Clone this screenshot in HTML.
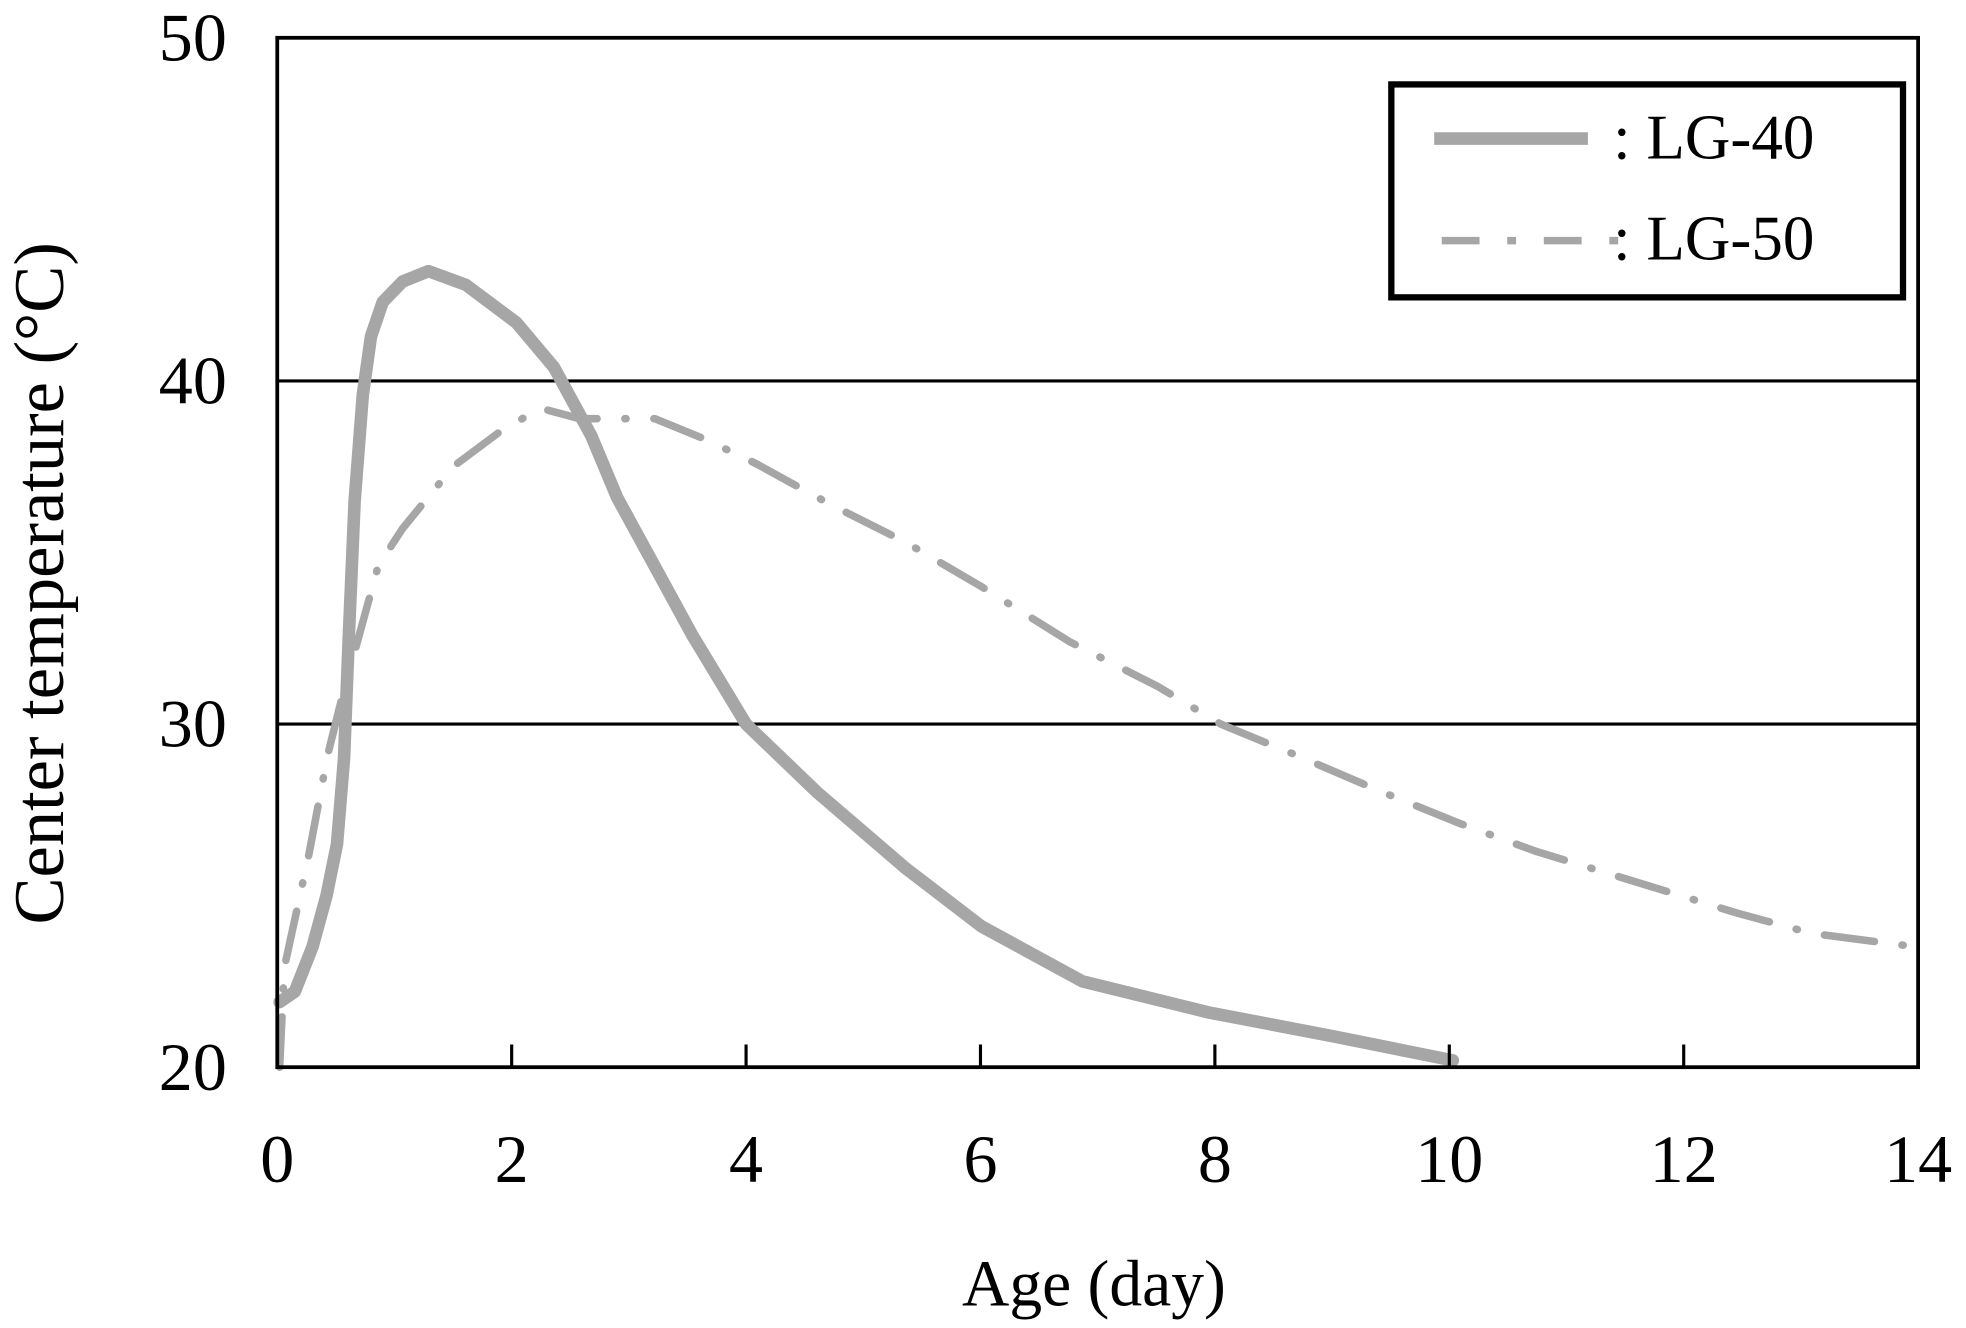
<!DOCTYPE html>
<html><head><meta charset="utf-8"><style>
html,body{margin:0;padding:0;background:#fff;}
svg{display:block;}
text{font-family:"Liberation Serif",serif;fill:#000;}
</style></head><body>
<svg id="chart" width="1966" height="1328" viewBox="0 0 1560 1054" preserveAspectRatio="none" xmlns="http://www.w3.org/2000/svg">
<g id="grid"></g>
<g id="series"></g>
<g id="axes"></g>
<text x="868" y="1036" font-size="52" text-anchor="middle">Age (day)</text>
<text transform="translate(50,463) rotate(-90)" font-size="56" text-anchor="middle">Center temperature (°C)</text>
<g>
<rect x="1104" y="67" width="406" height="169" fill="#fff" stroke="#000" stroke-width="5"/>
<line x1="1138" y1="110" x2="1260" y2="110" stroke="#a6a6a6" stroke-width="10"/>
<text x="1280" y="126" font-size="50">: LG-40</text>
<line x1="1144" y1="191" x2="1290" y2="191" stroke="#a6a6a6" stroke-width="6" stroke-dasharray="30 22 7 22"/>
<text x="1280" y="206" font-size="50">: LG-50</text>
</g>
</svg>
<script>
const xTicks = [0,2,4,6,8,10,12,14];
const yTicks = [20,30,40,50];
const lg40Days = [0.02,0.15,0.3,0.42,0.51,0.57,0.61,0.66,0.73,0.8,0.9,1.07,1.29,1.61,2.04,2.36,2.68,2.9,3.22,3.54,4.0,4.61,5.36,6.01,6.87,7.94,9.01,10.03];
const lg40Temp = [21.9,22.2,23.5,25,26.5,29,32.5,36.5,39.6,41.3,42.3,42.9,43.2,42.8,41.7,40.4,38.4,36.6,34.6,32.6,30.0,28.0,25.8,24.1,22.5,21.6,20.9,20.2];
const lg50Days = [0.02,0.06,0.13,0.27,0.43,0.54,0.7,0.86,1.07,1.5,1.93,2.25,2.58,3.22,3.65,4.08,4.72,5.36,6.01,6.76,7.51,8.05,8.69,9.44,10.09,10.73,11.59,12.45,13.09,14.0];
const lg50Temp = [20,22.9,24,26.2,29.1,30.6,32.6,34.6,35.7,37.5,38.6,39.2,38.9,38.9,38.3,37.6,36.4,35.3,34.0,32.4,31.1,30.0,29.1,28.0,27.1,26.3,25.4,24.5,23.9,23.5];
const L=220,R=1522,T=30,B=847;
const xs=d=>L+(d-0)/(14-0)*(R-L);
const ys=v=>B-(v-20)/(50-20)*(B-T);
const NS="http://www.w3.org/2000/svg";
function mk(tag,attrs,parent){const e=document.createElementNS(NS,tag);for(const k in attrs)e.setAttribute(k,attrs[k]);parent.appendChild(e);return e;}
const grid=document.getElementById('grid'),axes=document.getElementById('axes'),series=document.getElementById('series');
yTicks.forEach(v=>{
  if(v>20&&v<50){const g=mk('line',{x1:L,x2:R,y1:ys(v),y2:ys(v),stroke:'#000','stroke-width':2.5},grid);
  
  }
  const t=mk('text',{x:180,y:ys(v)+18,'font-size':54,'text-anchor':'end'},axes);t.textContent=v;
  
  
});
xTicks.forEach(d=>{
  if(d>0&&d<14){const tk=mk('line',{x1:xs(d),x2:xs(d),y1:B,y2:B-18,stroke:'#000','stroke-width':2.5},axes);
  
  }
  const t=mk('text',{x:xs(d),y:938,'font-size':54,'text-anchor':'middle'},axes);t.textContent=d;
  
  
});
const frame=mk('rect',{x:L,y:T,width:R-L,height:B-T,fill:'none',stroke:'#000','stroke-width':3},axes);


function pts(ds,ts){return ds.map((d,i)=>xs(d).toFixed(1)+','+ys(ts[i]).toFixed(1)).join(' ');}
const p50=mk('polyline',{points:pts(lg50Days,lg50Temp),fill:'none',stroke:'#a6a6a6','stroke-width':6,'stroke-linecap':'round','stroke-linejoin':'round','stroke-dasharray':'40 22 1 22'},series);


const p40=mk('polyline',{points:pts(lg40Days,lg40Temp),fill:'none',stroke:'#a6a6a6','stroke-width':10,'stroke-linecap':'round','stroke-linejoin':'round'},series);


</script>
</body></html>
